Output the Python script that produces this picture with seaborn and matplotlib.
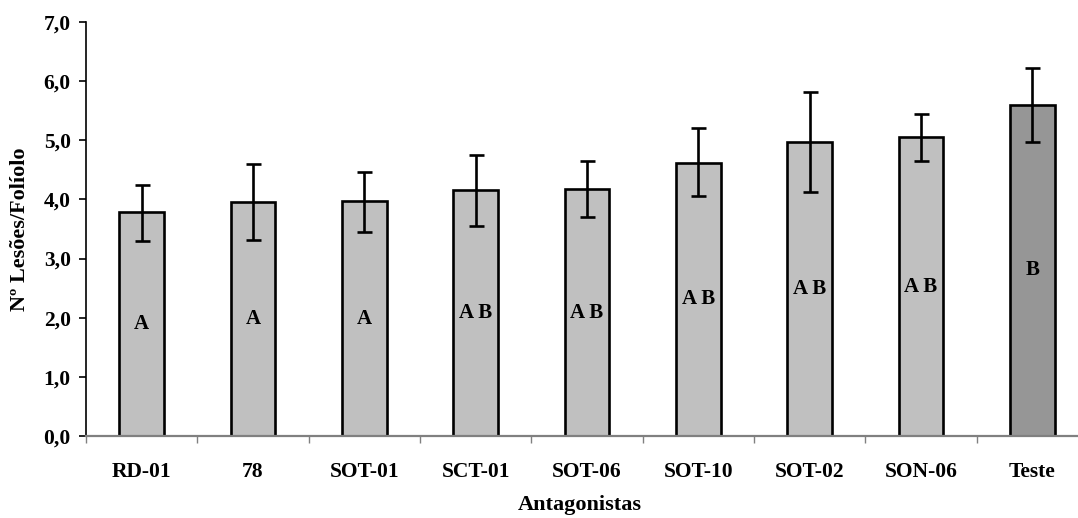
import pandas as pd
import numpy as np
import matplotlib
matplotlib.use('Agg')
import matplotlib.pyplot as plt
import seaborn as sns

# Data
antagonistas = ['RD-01', '78', 'SOT-01', 'SCT-01', 'SOT-06', 'SOT-10', 'SOT-02', 'SON-06', 'Teste']
lesoes = [3.78, 3.95, 3.97, 4.16, 4.17, 4.62, 4.97, 5.05, 5.60]
err_low = [3.30, 3.31, 3.45, 3.55, 3.70, 4.05, 4.13, 4.65, 4.97]
err_high = [4.25, 4.60, 4.47, 4.75, 4.65, 5.20, 5.82, 5.45, 6.23]
letras = ['A', 'A', 'A', 'A B', 'A B', 'A B', 'A B', 'A B', 'B']
cores = ['#c0c0c0'] * 8 + ['#969696']

df = pd.DataFrame({'antagonista': antagonistas, 'lesoes': lesoes})

sns.set_style('white')
plt.rcParams['font.family'] = ['Liberation Serif', 'DejaVu Serif']
plt.rcParams['font.weight'] = 'bold'
plt.rcParams['text.color'] = 'black'
plt.rcParams['axes.labelcolor'] = 'black'
plt.rcParams['xtick.labelcolor'] = 'black'
plt.rcParams['ytick.labelcolor'] = 'black'

fig = plt.figure(figsize=(10.78, 5.18), dpi=100)
ax = fig.add_axes([86 / 1078, 82 / 518, 1002 / 1078, 414 / 518])

sns.barplot(data=df, x='antagonista', y='lesoes', hue='antagonista',
            palette=cores, legend=False, width=0.4, edgecolor='black',
            linewidth=1.9, ax=ax)

x = np.arange(len(antagonistas))
means = np.array(lesoes)
yerr = [means - np.array(err_low), np.array(err_high) - means]
ax.errorbar(x, means, yerr=yerr, fmt='none', ecolor='black',
            elinewidth=1.9, capsize=5.4, capthick=1.9)

for i, (v, txt) in enumerate(zip(lesoes, letras)):
    ax.text(i, v / 2, txt, ha='center', va='center', fontsize=15,
            fontweight='bold', color='black')

ax.set_xlim(-0.5, len(antagonistas) - 0.5)
ax.set_ylim(0, 7)
ax.set_yticks(np.arange(0, 8, 1))
ax.set_yticklabels([f'{v:.1f}'.replace('.', ',') for v in range(8)])

# category separators as ticks
ax.set_xticks(np.arange(-0.5, len(antagonistas), 1), minor=True)
ax.tick_params(axis='x', which='major', length=0, pad=19, labelsize=15.5,
               labelcolor='black')
ax.tick_params(axis='x', which='minor', length=5, width=1, color='#808080',
               direction='out', bottom=True)
ax.tick_params(axis='y', length=5, width=1.2, color='black', direction='out',
               left=True, pad=6, labelsize=15.5, labelcolor='black')
for lab in ax.get_xticklabels() + ax.get_yticklabels():
    lab.set_fontweight('bold')

sns.despine(ax=ax, top=True, right=True)
ax.spines['left'].set_color('black')
ax.spines['left'].set_linewidth(1.2)
ax.spines['bottom'].set_color('#808080')
ax.spines['bottom'].set_linewidth(1.6)

ax.set_xlabel('Antagonistas', fontsize=16, fontweight='bold', color='black')
ax.set_ylabel('Nº Lesões/Folíolo', fontsize=16, fontweight='bold', color='black')
ax.xaxis.set_label_coords(494 / 1002, -(505 - 436) / 414)
ax.xaxis.label.set_va('center')
ax.yaxis.set_label_coords(-(86 - 20) / 1002, 0.5)
ax.yaxis.label.set_va('center')

fig.savefig('out.png', dpi=100)
